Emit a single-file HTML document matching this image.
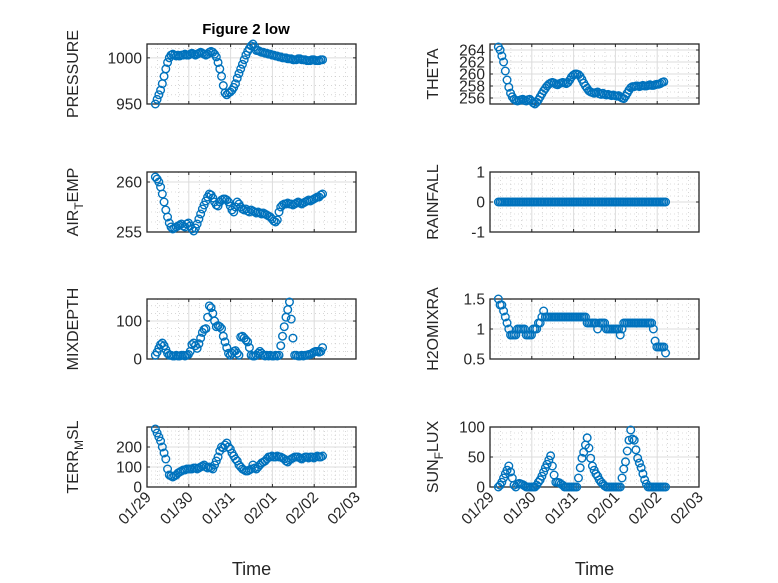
<!DOCTYPE html>
<html><head><meta charset="utf-8">
<style>
html,body{margin:0;padding:0;background:#fff;}
svg{display:block;font-family:"Liberation Sans","DejaVu Sans",sans-serif;}
</style></head>
<body>
<svg id="fig" width="778" height="583" viewBox="0 0 778 583">
<rect width="778" height="583" fill="#fff"/>
<text x="246" y="34" text-anchor="middle" font-size="15" font-weight="bold" fill="#000">Figure 2 low</text>
</svg>
<script>
// time categories: hourly samples starting 01/29 ~04:48 (days since 01/29)
const tStart = 0.2;
const xTickLabels = ["01/29","01/30","01/31","02/01","02/02","02/03"];
const pressure = [950,955,960,965,972,980,988,995,1000,
1003,1004,1003,1002,1003,1002,1003,1003,1004,1003,1003,1004,1005,1004,1003,1004,1005,1006,1005,1004,1003,1004,1006,1007,1006,1004,1001,995,
988,980,970,962,960,962,963,965,968,972,978,
983,988,993,998,1003,1007,1010,1013,1015,1012,1008,
1008,1007,1006,1006,1005,1005,1004,1004,1003,1003,1002,1002,1001,1001,1000,1000,1000,999,999,999,998,998,998,999,999,998,998,998,997,997,997,998,998,997,997,997,998,998];
const theta = [264.5,264,263,262,260.5,259,257.8,256.8,256.2,255.8,255.6,255.5,255.6,
255.7,255.8,255.6,255.5,255.7,255.8,255.5,255.2,255,255.3,
255.7,256.2,256.7,257.2,257.6,258,258.3,258.5,258.6,258.5,
258.3,258.2,258.4,258.5,258.6,258.5,258.4,258.6,259,259.5,259.8,
260,260,259.9,259.6,259.1,258.5,258,257.6,257.2,257,256.9,256.8,256.9,257,
256.7,256.6,256.8,256.6,256.5,256.6,256.5,256.4,256.5,256.4,256.3,256.4,256.2,256,255.9,256.3,256.8,257.3,257.7,257.9,
257.9,258,258,257.9,258,258.1,258,258,258.1,258.2,258.1,258.1,258.2,258.3,258.3,258.4,258.6,258.7];
const airTemp = [260.5,260.3,260,259.5,258.8,258,257.2,256.5,255.9,255.5,255.3,255.4,255.5,
255.6,255.7,255.8,255.6,255.5,255.8,255.9,255.6,255.3,255.1,
255.4,255.8,256.3,256.8,257.3,257.7,258.1,258.5,258.8,258.7,258.4,
258,257.7,257.6,258,258.2,258.3,258.3,258.2,258,257.6,257.2,257,257.5,258,257.8,
257.5,257.3,257.2,257.3,257.1,257,257.2,257.1,257,256.9,257,256.9,256.8,256.9,256.8,256.7,256.6,256.5,256.3,256.1,256,256.2,
257,257.5,257.7,257.8,257.8,257.9,257.8,257.8,257.7,257.8,257.9,258,257.9,257.8,257.9,258,258.1,258.2,258.1,258.2,258.3,258.4,258.5,258.5,258.7,258.8];
const rainfall = [0,0,0,0,0,0,0,0,0,0,0,0,0,0,0,0,0,0,0,0,0,0,0,0,0,0,0,0,0,0,0,0,0,0,0,0,0,0,0,0,0,0,0,0,0,0,0,0,0,0,0,0,0,0,0,0,0,0,0,0,0,0,0,0,0,0,0,0,0,0,0,0,0,0,0,0,0,0,0,0,0,0,0,0,0,0,0,0,0,0,0,0,0,0,0,0,0];
const mixDepth = [10,18,28,38,42,35,25,15,10,
10,8,8,10,8,8,10,10,8,10,12,20,
38,42,35,28,40,55,70,78,80,110,140,
135,120,100,85,88,85,80,60,45,30,15,10,
15,20,22,15,10,58,60,55,50,45,30,10,
8,8,10,15,20,15,10,8,10,8,10,8,8,10,8,10,
35,60,85,110,130,150,105,55,10,
10,8,8,10,8,10,10,12,12,15,18,20,20,18,20,30];
const h2oMix = [1.5,1.4,1.4,1.3,1.2,1.1,1.0,0.9,0.9,
0.9,0.9,1.0,1.0,1.0,1.0,1.0,0.9,0.9,0.9,0.9,1.0,1.0,
1.0,1.1,1.1,1.2,1.3,1.2,1.2,1.2,1.2,1.2,1.2,
1.2,1.2,1.2,1.2,1.2,1.2,1.2,1.2,1.2,1.2,1.2,1.2,1.2,1.2,1.2,1.2,1.2,1.2,
1.1,1.1,1.1,1.1,1.1,1.1,1.0,1.1,1.1,1.1,1.1,1.0,1.0,1.0,1.0,
1.0,1.0,1.0,1.0,0.9,1.0,1.1,1.1,1.1,1.1,
1.1,1.1,1.1,1.1,1.1,1.1,1.1,1.1,1.1,1.1,1.1,1.1,1.1,
1.0,0.8,0.7,0.7,0.7,0.7,0.7,0.6];
const terrMsl = [290,270,250,230,200,170,140,90,60,
55,50,55,60,70,75,80,85,85,90,90,90,
90,95,95,90,95,100,105,110,100,95,100,
95,90,110,130,150,180,200,195,210,220,200,190,
170,155,140,130,110,100,90,85,80,80,85,90,110,
95,90,100,110,120,125,130,140,150,150,155,150,150,155,
150,150,145,140,130,125,135,140,145,150,150,150,145,140,145,
150,150,145,150,150,145,150,155,150,150,155];
const sunFlux = [0,3,8,15,22,28,35,25,15,3,0,
5,6,5,4,2,0,0,0,0,0,0,
3,8,12,18,25,32,38,45,52,35,20,
8,8,7,5,3,0,0,0,0,0,0,0,0,
15,32,48,58,70,82,65,48,35,28,
22,18,12,8,5,2,0,0,0,
0,0,0,0,0,0,15,30,
42,60,78,95,80,78,62,48,40,32,22,
12,5,0,0,0,0,0,0,0,0,0,0,0];

const NS="http://www.w3.org/2000/svg";
const svg=document.getElementById('fig');
function mk(tag,attrs,parent){const e=document.createElementNS(NS,tag);for(const k in attrs)e.setAttribute(k,attrs[k]);(parent||svg).appendChild(e);return e;}

const panels=[
 {name:'pressure',data:pressure,x0:147,y0:44,lim:[950,1015],ticks:[950,1000],minor:10,label:['PRESSURE']},
 {name:'theta',data:theta,x0:490,y0:44,lim:[255,265],ticks:[256,258,260,262,264],minor:1,label:['THETA']},
 {name:'air-temp',data:airTemp,x0:147,y0:172,lim:[255,261],ticks:[255,260],minor:1,label:['AIR','T','EMP']},
 {name:'rainfall',data:rainfall,x0:490,y0:172,lim:[-1,1],ticks:[-1,0,1],minor:0.2,label:['RAINFALL']},
 {name:'mixdepth',data:mixDepth,x0:147,y0:299,lim:[0,158],ticks:[0,100],minor:20,label:['MIXDEPTH']},
 {name:'h2o-mix',data:h2oMix,x0:490,y0:299,lim:[0.5,1.5],ticks:[0.5,1,1.5],minor:0.1,label:['H2OMIXRA']},
 {name:'terr-msl',data:terrMsl,x0:147,y0:427,lim:[0,300],ticks:[0,100,200],minor:20,label:['TERR','M','SL']},
 {name:'sun-flux',data:sunFlux,x0:490,y0:427,lim:[0,100],ticks:[0,50,100],minor:10,label:['SUN','F','LUX']},
];
const W=209,H=60,DAYS=5;
panels.forEach((p,pi)=>{
 const g=mk('g',{});
 
 
 const xs=t=>p.x0+t/DAYS*W;
 const ys=v=>p.y0+H-(v-p.lim[0])/(p.lim[1]-p.lim[0])*H;
 mk('rect',{x:p.x0,y:p.y0,width:W,height:H,fill:'#fff'},g);
 for(let t=0;t<=DAYS;t+=0.25){if(Math.abs(t-Math.round(t))<1e-6)continue;
  mk('line',{x1:xs(t),x2:xs(t),y1:p.y0,y2:p.y0+H,stroke:'#bdbdbd','stroke-width':0.6,'stroke-dasharray':'1 3'},g);}
 const start=Math.ceil(p.lim[0]/p.minor-1e-6);
 for(let k=start;k*p.minor<=p.lim[1]+1e-9;k++){const v=k*p.minor;
  if(p.ticks.some(tv=>Math.abs(tv-v)<1e-6))continue;
  mk('line',{x1:p.x0,x2:p.x0+W,y1:ys(v),y2:ys(v),stroke:'#bdbdbd','stroke-width':0.6,'stroke-dasharray':'1 3'},g);}
 for(let d=1;d<DAYS;d++) mk('line',{x1:xs(d),x2:xs(d),y1:p.y0,y2:p.y0+H,stroke:'#dcdcdc','stroke-width':1},g);
 p.ticks.forEach(v=>{mk('line',{x1:p.x0,x2:p.x0+W,y1:ys(v),y2:ys(v),stroke:'#dcdcdc','stroke-width':1},g);});
 mk('rect',{x:p.x0,y:p.y0,width:W,height:H,fill:'none',stroke:'#262626','stroke-width':1.3},g);
 for(let d=0;d<=DAYS;d++){mk('line',{x1:xs(d),x2:xs(d),y1:p.y0+H,y2:p.y0+H-3,stroke:'#262626'},g);
  mk('line',{x1:xs(d),x2:xs(d),y1:p.y0,y2:p.y0+3,stroke:'#262626'},g);}
 p.ticks.forEach(v=>{
  mk('line',{x1:p.x0,x2:p.x0+3,y1:ys(v),y2:ys(v),stroke:'#262626'},g);
  mk('line',{x1:p.x0+W,x2:p.x0+W-3,y1:ys(v),y2:ys(v),stroke:'#262626'},g);
  const tl=mk('text',{x:p.x0-5,y:ys(v)+5.5,'text-anchor':'end','font-size':15.5,fill:'#262626'},g);
  tl.textContent=String(v);
  
  
 });
 const lx=p.x0-(pi%2===0?69:52), ly=p.y0+H/2;
 const yl=mk('text',{x:lx,y:ly,'text-anchor':'middle','font-size':16,fill:'#262626',transform:`rotate(-90 ${lx} ${ly})`},g);
 
 
 if(p.label.length===1){yl.textContent=p.label[0];}
 else{const a=mk('tspan',{},yl);a.textContent=p.label[0];
  const b=mk('tspan',{dy:5,'font-size':12},yl);b.textContent=p.label[1];
  const c=mk('tspan',{dy:-5},yl);c.textContent=p.label[2];}
 p.data.forEach((v,i)=>{
  const c=mk('circle',{cx:xs(tStart+i/24),cy:ys(v),r:3.8,fill:'none',stroke:'#0072BD','stroke-width':1.4},g);
  
  
 });
 if(pi>=6){
  xTickLabels.forEach((lab,d)=>{
   const tx=xs(d)+5,ty=p.y0+H+11;
   const t=mk('text',{x:tx,y:ty,'text-anchor':'end','font-size':15.5,fill:'#262626',transform:`rotate(-45 ${tx} ${ty})`},g);
   t.textContent=lab;
   
   
  });
  const xt=mk('text',{x:p.x0+W/2,y:575,'text-anchor':'middle','font-size':18,fill:'#262626'},g);
  xt.textContent='Time';
  
  
 }
});
</script>
</body></html>
